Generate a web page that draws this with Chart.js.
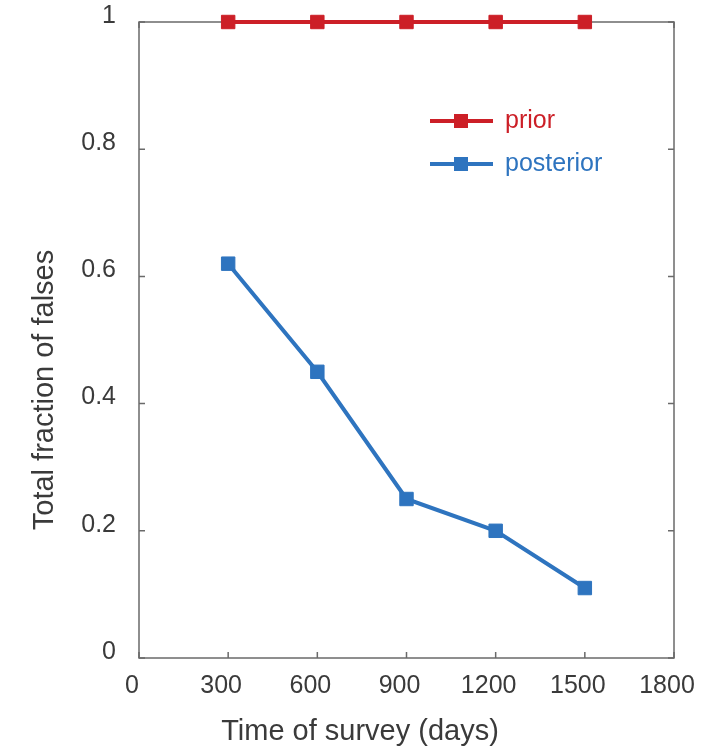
<!DOCTYPE html>
<html>
<head>
<meta charset="utf-8">
<script src="https://cdn.jsdelivr.net/npm/chart.js@4/dist/chart.umd.min.js"></script>
<style>
  html, body { margin: 0; padding: 0; background: #ffffff; }
  #wrap { width: 707px; height: 749px; }
</style>
</head>
<body>
<div id="wrap"><canvas id="c" width="707" height="749"></canvas></div>
<script>
// Survey duration (days) and fraction of false detections
const surveyDays = [300, 600, 900, 1200, 1500];
const priorFraction = [1, 1, 1, 1, 1];
const posteriorFraction = [0.62, 0.45, 0.25, 0.20, 0.11];

// Axis tick values
const xTickValues = [0, 300, 600, 900, 1200, 1500, 1800];
const yTickValues = [0, 0.2, 0.4, 0.6, 0.8, 1];

const seriesNames = ['prior', 'posterior'];
const seriesColors = ['#cc1f27', '#2e74bf'];

const FONT = '"Liberation Sans", Arial, Helvetica, sans-serif';
const TEXT = '#3a3a3a';
const FRAME = '#6a6a6a';

function toPoints(xs, ys) {
  return xs.map((x, i) => ({ x: x, y: ys[i] }));
}

// Box frame with inward tick marks on all four sides
const framePlugin = {
  id: 'frame',
  beforeDatasetsDraw(chart) {
    const { ctx, chartArea: a, scales } = chart;
    const len = 6;
    ctx.save();
    ctx.strokeStyle = FRAME;
    ctx.lineWidth = 1.5;
    ctx.strokeRect(a.left, a.top, a.right - a.left, a.bottom - a.top);
    ctx.beginPath();
    scales.x.ticks.forEach(t => {
      const px = scales.x.getPixelForValue(t.value);
      ctx.moveTo(px, a.bottom); ctx.lineTo(px, a.bottom - len);
      ctx.moveTo(px, a.top); ctx.lineTo(px, a.top + len);
    });
    scales.y.ticks.forEach(t => {
      const py = scales.y.getPixelForValue(t.value);
      ctx.moveTo(a.left, py); ctx.lineTo(a.left + len, py);
      ctx.moveTo(a.right, py); ctx.lineTo(a.right - len, py);
    });
    ctx.stroke();
    ctx.restore();
  }
};

// Axis titles and the in-plot legend
const labelPlugin = {
  id: 'labels',
  afterDraw(chart) {
    const { ctx } = chart;
    ctx.save();
    ctx.fillStyle = TEXT;
    ctx.font = '29px ' + FONT;
    ctx.textAlign = 'center';
    ctx.textBaseline = 'alphabetic';
    ctx.fillText('Time of survey (days)', 360, 740);

    ctx.translate(53, 390);
    ctx.rotate(-Math.PI / 2);
    ctx.fillText('Total fraction of falses', 0, 0);
    ctx.restore();

    // legend entries
    const rows = [121, 164];
    chart.data.datasets.forEach((ds, i) => {
      const y = rows[i];
      ctx.save();
      ctx.strokeStyle = ds.borderColor;
      ctx.lineWidth = ds.borderWidth;
      ctx.beginPath();
      ctx.moveTo(430, y);
      ctx.lineTo(493, y);
      ctx.stroke();
      ctx.fillStyle = ds.backgroundColor;
      ctx.fillRect(461 - 7, y - 7, 14, 14);
      ctx.font = '25px ' + FONT;
      ctx.textAlign = 'left';
      ctx.textBaseline = 'alphabetic';
      ctx.fillText(ds.label, 505, y + 7);
      ctx.restore();
    });
  }
};

new Chart(document.getElementById('c'), {
  type: 'line',
  data: {
    datasets: [
      {
        label: seriesNames[0],
        data: toPoints(surveyDays, priorFraction),
        borderColor: seriesColors[0],
        backgroundColor: seriesColors[0],
        pointBorderColor: seriesColors[0],
        borderWidth: 4,
        pointStyle: 'rect',
        pointRadius: 9.5,
        pointBorderWidth: 1,
        tension: 0,
        clip: false
      },
      {
        label: seriesNames[1],
        data: toPoints(surveyDays, posteriorFraction),
        borderColor: seriesColors[1],
        backgroundColor: seriesColors[1],
        pointBorderColor: seriesColors[1],
        borderWidth: 4,
        pointStyle: 'rect',
        pointRadius: 9.5,
        pointBorderWidth: 1,
        tension: 0,
        clip: false
      }
    ]
  },
  options: {
    responsive: false,
    animation: false,
    layout: { padding: { top: 22, right: 33, left: 0, bottom: 0 } },
    plugins: {
      legend: { display: false },
      tooltip: { enabled: false }
    },
    scales: {
      x: {
        type: 'linear',
        min: 0,
        max: 1800,
        afterBuildTicks(scale) { scale.ticks = xTickValues.map(v => ({ value: v })); },
        afterFit(scale) {
          scale.height = 91;
          scale.paddingLeft = 0;
          scale.paddingRight = 0;
        },
        grid: { display: false, drawTicks: false },
        border: { display: false },
        ticks: {
          color: TEXT,
          font: { family: FONT, size: 25 },
          padding: 13,
          labelOffset: -7,
          maxRotation: 0,
          autoSkip: false,
          callback: v => String(v)
        }
      },
      y: {
        type: 'linear',
        min: 0,
        max: 1,
        afterBuildTicks(scale) { scale.ticks = yTickValues.map(v => ({ value: v })); },
        afterFit(scale) {
          scale.width = 139;
          scale.paddingTop = 0;
          scale.paddingBottom = 0;
        },
        grid: { display: false, drawTicks: false },
        border: { display: false },
        ticks: {
          color: TEXT,
          font: { family: FONT, size: 25 },
          padding: 23,
          labelOffset: -6,
          autoSkip: false,
          callback: v => String(v)
        }
      }
    }
  },
  plugins: [framePlugin, labelPlugin]
});
</script>
</body>
</html>
